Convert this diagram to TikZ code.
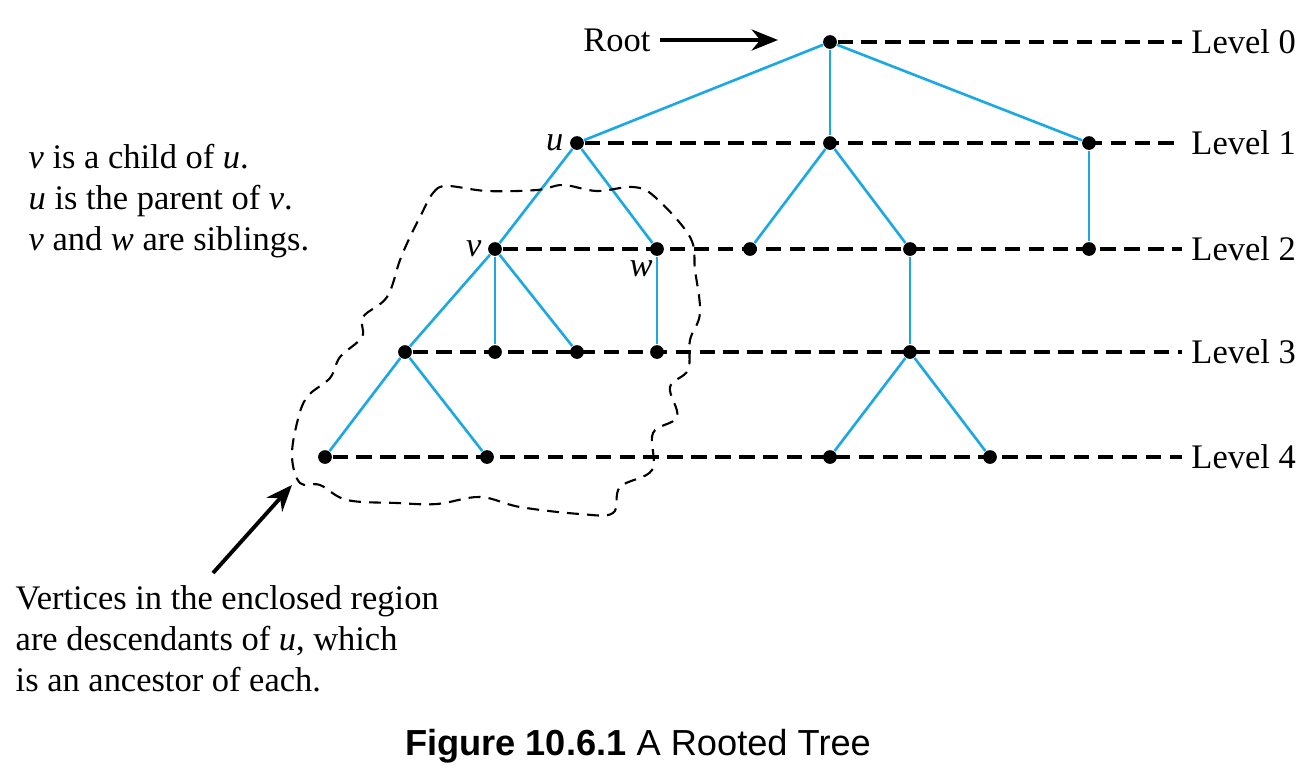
\documentclass[tikz,border=0pt]{standalone}
\usepackage{fontspec}
\setmainfont{Liberation Serif}
\newfontfamily\capfont{Liberation Sans}
\usetikzlibrary{arrows.meta}

\definecolor{treeblue}{RGB}{28,168,228}

\begin{document}
\begin{tikzpicture}[
	x=0.01cm, y=-0.01cm,
	every node/.style={font=\fontsize{9.8pt}{11.6pt}\selectfont},
	vertex/.style={circle, fill=black, inner sep=0pt, minimum size=3.9pt},
	edge line/.style={treeblue, line width=0.75pt},
	level line/.style={line width=1.05pt, dash pattern=on 4.4pt off 2.4pt},
	region line/.style={line width=0.6pt, dash pattern=on 3.4pt off 2.3pt},
	pointer/.style={line width=1.1pt, -{Stealth[length=7.5pt, width=6pt]}},
	level label/.style={anchor=west, inner sep=2.5pt},
	vname/.style={inner sep=1.5pt}
	]
	\useasboundingbox (0,0) rectangle (1314,778);
	% vertices
	\node[vertex] (r) at (830,42) {};
	\node[vertex, label={[vname]left:\textit{u}}] (u) at (577,143) {};
	\node[vertex] (a1) at (830,143) {};
	\node[vertex] (a2) at (1089,143) {};
	\node[vertex, label={[vname]left:\textit{v}}] (v) at (495,249) {};
	\node[vertex, label={[vname, xshift=2pt]below left:\textit{w}}] (w) at (657,249) {};
	\node[vertex] (b1) at (750,249) {};
	\node[vertex] (b2) at (910,249) {};
	\node[vertex] (b3) at (1089,249) {};
	\node[vertex] (c1) at (405,352) {};
	\node[vertex] (c2) at (495,352) {};
	\node[vertex] (c3) at (577,352) {};
	\node[vertex] (c4) at (657,352) {};
	\node[vertex] (c5) at (910,352) {};
	\node[vertex] (d1) at (325,457) {};
	\node[vertex] (d2) at (487,457) {};
	\node[vertex] (d3) at (830,457) {};
	\node[vertex] (d4) at (990,457) {};
	% levels
	\foreach \i/\y in {0/42, 1/143, 2/249, 3/352, 4/457}
		\node[level label] (L\i) at (1182,\y) {Level \i};
	\foreach \a/\b in {r/L0, u/L1, v/L2, c1/L3, d1/L4}
		\draw[level line] (\a) -- (\b);
	% edges
	\foreach \a/\b in {r/u, r/a1, r/a2, u/v, u/w, a1/b1, a1/b2, a2/b3,
		v/c1, v/c2, v/c3, w/c4, b2/c5, c1/d1, c1/d2, c5/d3, c5/d4}
		\draw[edge line] (\a) -- (\b);
	% root
	\node[anchor=east, inner sep=2.5pt] (rootname) at (660,40) {Root};
	\coordinate (roottip) at (778,40);
	\draw[pointer] (rootname) -- (roottip);
	% enclosed region
	\draw[region line] plot[smooth cycle, tension=0.6] coordinates {
		(420,217) (433,193) (447,186) (487,191) (537,190) (563,185)
		(597,191) (633,187) (655,197) (690,237) (695,270) (700,313)
		(690,340) (688,370) (670,387) (677,417) (653,433) (652,470)
		(620,487) (613,513) (580,514) (520,507) (480,497) (437,504)
		(397,503) (347,500) (320,485) (300,483) (292,457) (297,423)
		(307,397) (330,378) (340,357) (362,337) (363,317) (387,297)
		(400,260) (410,237)};
	% text
	\node[anchor=north west, align=left, inner sep=0pt] (facts) at (28,144)
		{\textit{v} is a child of \textit{u}.\\
		 \textit{u} is the parent of \textit{v}.\\
		 \textit{v} and \textit{w} are siblings.};
	\node[anchor=north west, align=left, inner sep=0pt] (desc) at (15,585)
		{Vertices in the enclosed region\\
		 are descendants of \textit{u}, which\\
		 is an ancestor of each.};
	\coordinate (desctail) at (213,573);
	\coordinate (regiontip) at (292,485);
	\draw[pointer] (desctail) -- (regiontip);
	% caption
	\node[anchor=base, font=\capfont\fontsize{10.3pt}{12pt}\selectfont] (caption) at (638,755)
		{\textbf{Figure 10.6.1} A Rooted Tree};
\end{tikzpicture}
\end{document}
